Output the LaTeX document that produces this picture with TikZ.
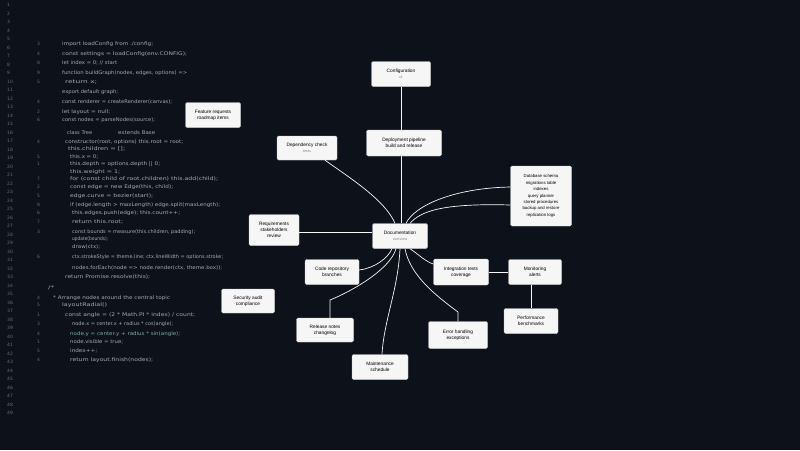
\documentclass[tikz,border=0pt]{standalone}
\usepackage{fontspec}
\setmainfont{Liberation Sans}
\newfontfamily\codefont{DejaVu Sans}
\usepackage{graphicx}
\definecolor{bg}{RGB}{13,18,26}
\definecolor{codegray}{RGB}{165,170,177}
\definecolor{codeteal}{RGB}{125,170,165}
\definecolor{numgray}{RGB}{100,107,117}
\definecolor{boxfill}{RGB}{246,246,246}
\tikzset{
  box/.style={draw=gray!40, fill=boxfill, rounded corners=1.5pt, inner sep=1pt, align=center,
    font=\fontsize{4.8}{5.8}\selectfont, text=black},
  conn/.style={draw=white!92!gray, line width=0.7pt},
  code/.style={anchor=west, inner sep=0pt, text=codegray, font=\codefont\fontsize{5}{5}\selectfont},
  lnum/.style={anchor=west, inner sep=0pt, text=numgray, font=\codefont\fontsize{4.5}{5}\selectfont},
}
\newcommand\subl[1]{{\color{gray}\fontsize{3.6}{4.4}\selectfont #1}}
\newcommand\codeln[5]{\node[code] (#1) at (#3,#2) {\resizebox{\dimexpr #4pt-#3pt\relax}{\height}{#5}};}
\begin{document}
\begin{tikzpicture}[x=1pt,y=-1pt]
\fill[bg] (0,0) rectangle (800,450);
\useasboundingbox (0,0) rectangle (800,450);

% line numbers, first column
\foreach \i in {0,...,48} {
  \pgfmathtruncatemacro\n{\i+1}
  \node[lnum] (ln\i) at (7,5+\i*8.5) {\n};
}
% line numbers, second column
\foreach \yy/\n [count=\k] in {44/3,54/4,63/8,73/9,82/5,102/4,112/2,120/6,142/4,157/5,164/1,179/7,187/2,196/5,205/8,213/6,222/7,232/3,257/6,298/4,305/5,315/1,324/3,334/4,342/1,351/5,360/4} {
  \node[lnum] (lb\k) at (37,\yy) {\n};
}

% code text
\codeln{k1}{44}{62}{153}{import loadConfig from ./config;}
\codeln{k2}{54}{62}{187}{const settings = loadConfig(env.CONFIG);}
\codeln{k3}{63}{62}{117}{let index = 0; // start}
\codeln{k4}{73}{62}{187}{function buildGraph(nodes, edges, options) =>}
\codeln{k5}{82}{65}{97}{return x;}
\codeln{k6}{92}{62}{118}{export default graph;}
\codeln{k7}{102}{62}{172}{const renderer = createRenderer(canvas);}
\codeln{k8}{112}{62}{110}{let layout = null;}
\codeln{k9}{120}{62}{155}{const nodes = parseNodes(source);}
\codeln{k10a}{133}{67}{92}{class Tree}
\codeln{k10b}{133}{118}{155}{extends Base}
\codeln{k11}{142}{65}{183}{constructor(root, options) this.root = root;}
\codeln{k12}{149}{68}{125}{this.children = [];}
\codeln{k13}{157}{70}{98}{this.x = 0;}
\codeln{k14}{164}{70}{160}{this.depth = options.depth || 0;}
\codeln{k15}{172}{70}{120}{this.weight = 1;}
\codeln{k16}{179}{70}{218}{for (const child of root.children) this.add(child);}
\codeln{k17}{187}{70}{173}{const edge = new Edge(this, child);}
\codeln{k18}{196}{70}{153}{edge.curve = bezier(start);}
\codeln{k19}{205}{70}{220}{if (edge.length > maxLength) edge.split(maxLength);}
\codeln{k20}{213}{72}{180}{this.edges.push(edge); this.count++;}
\codeln{k21}{222}{72}{123}{return this.root;}
\codeln{k22}{232}{72}{195}{const bounds = measure(this.children, padding);}
\codeln{k23}{239}{72}{108}{update(bounds);}
\codeln{k24}{247}{72}{100}{draw(ctx);}
\codeln{k25}{257}{72}{223}{ctx.strokeStyle = theme.line; ctx.lineWidth = options.stroke;}
\codeln{k26}{268}{72}{222}{nodes.forEach(node => node.render(ctx, theme.box));}
\codeln{k27}{277}{65}{150}{return Promise.resolve(this);}
\codeln{k28}{288}{48}{54}{/*}
\codeln{k29}{298}{53}{170}{* Arrange nodes around the central topic}
\codeln{k30}{305}{62}{107}{layoutRadial()}
\codeln{k31}{315}{65}{195}{const angle = (2 * Math.PI * index) / count;}
\codeln{k32}{324}{72}{173}{node.x = center.x + radius * cos(angle);}
\codeln{k33}{334}{70}{180}{\color{codeteal}node.y = center.y + radius * sin(angle);}
\codeln{k34}{342}{70}{123}{node.visible = true;}
\codeln{k35}{351}{70}{97}{index++;}
\codeln{k36}{360}{70}{153}{return layout.finish(nodes);}

% boxes
\node[box, minimum width=59pt, minimum height=25pt] (b1) at (401,74) {Configuration\\\subl{v1}};
\node[box, minimum width=75pt, minimum height=26pt] (b2) at (404,143) {Deployment pipeline\\build and release};
\node[box, minimum width=60pt, minimum height=24pt] (b3) at (307,148) {Dependency check\\\subl{tests}};
\node[box, minimum width=55pt, minimum height=25pt] (b4) at (213,115) {Feature requests\\roadmap items};
\node[box, minimum width=61pt, minimum height=60pt, font=\fontsize{4.3}{6.4}\selectfont] (b5) at (541,196)
  {Database schema\\migrations table\\indexes\\query planner\\stored procedures\\backup and restore\\replication logs};
\node[box, minimum width=50pt, minimum height=31pt] (b6) at (274,230) {Requirements\\stakeholders\\review};
\node[box, minimum width=55pt, minimum height=25pt] (c) at (400,236) {Documentation\\\subl{overview}};
\node[box, minimum width=54pt, minimum height=25pt] (b8) at (332,272) {Code repository\\branches};
\node[box, minimum width=55pt, minimum height=26pt] (b9) at (461,272) {Integration tests\\coverage};
\node[box, minimum width=53pt, minimum height=25pt] (b10) at (535,272) {Monitoring\\alerts};
\node[box, minimum width=53pt, minimum height=24pt] (b11) at (248,301) {Security audit\\compliance};
\node[box, minimum width=57pt, minimum height=24pt] (b12) at (325,330) {Release notes\\changelog};
\node[box, minimum width=59pt, minimum height=27pt] (b13) at (458,335) {Error handling\\exceptions};
\node[box, minimum width=54pt, minimum height=25pt] (b14) at (531,321) {Performance\\benchmarks};
\node[box, minimum width=56pt, minimum height=25pt] (b15) at (380,367) {Maintenance\\schedule};

% connectors
\draw[conn] (b1.south) -- (b1.south |- b2.north);
\draw[conn] (b1.south |- b2.south) -- (b1.south |- c.north);
\draw[conn] ([xshift=18pt]b3.south) .. controls (350,178) and (385,200) .. ([xshift=-5pt]c.north);
\draw[conn] ([yshift=-2pt]b6.east) -- ([yshift=-2pt]b6.east -| c.west);
\draw[conn] ([xshift=6pt]c.north) .. controls (415,205) and (455,188) .. ([yshift=9pt]b5.west);
\draw[conn] ([xshift=10pt]c.north) .. controls (420,212) and (440,203) .. ([yshift=-9pt]b5.west);
\draw[conn] ([xshift=-8pt]c.south) .. controls (388,258) and (375,268) .. ([yshift=2pt]b8.east);
\coordinate (e12) at (330,300);
\draw[conn] ([xshift=-4pt]c.south) .. controls (390,270) and (350,292) .. (e12) -- (e12 |- b12.north);
\draw[conn] (c.south) .. controls (398,290) and (384,320) .. ([xshift=2pt]b15.north);
\draw[conn] ([xshift=10pt]c.south) .. controls (418,254) and (426,262) .. ([yshift=8pt]b9.west);
\coordinate (e13) at (458,312);
\draw[conn] ([xshift=5pt]c.south) .. controls (410,275) and (435,295) .. (e13) -- (e13 |- b13.north);
\draw[conn] (b9.east) -- (b10.west);
\draw[conn] (b14.north |- b10.south) -- (b14.north);
\end{tikzpicture}
\end{document}
